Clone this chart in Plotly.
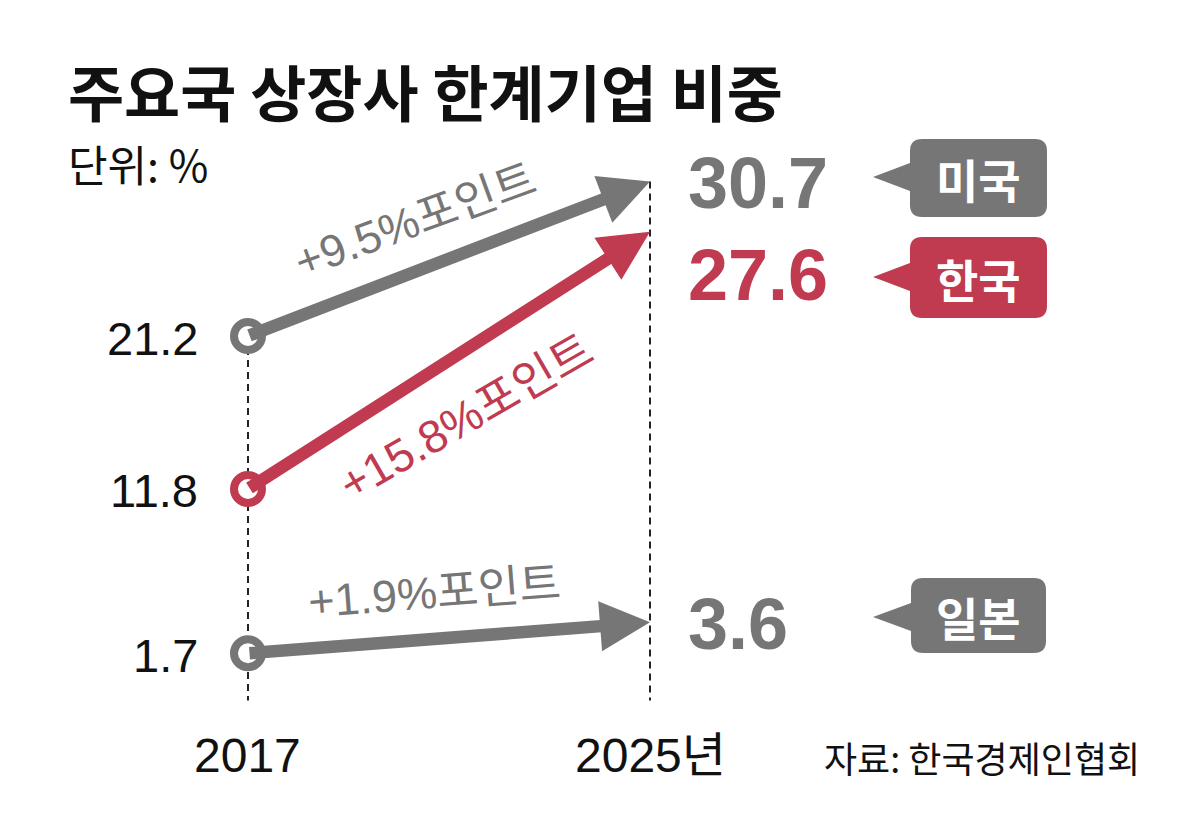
import plotly.graph_objects as go

# ---- data ----
countries = ["미국", "한국", "일본"]
years = [2017, 2025]
year_labels = ["2017", "2025년"]
v2017 = [21.2, 11.8, 1.7]
v2025 = [30.7, 27.6, 3.6]
change_labels = ["+9.5%포인트", "+15.8%포인트", "+1.9%포인트"]
title = "주요국 상장사 한계기업 비중"
unit = "단위: %"
source = "자료: 한국경제인협회"

GRAY = "#767676"
RED = "#c03a50"
colors = [GRAY, RED, GRAY]

W, H = 1200, 825
KFONT = "Noto Sans CJK KR"
NFONT = "Liberation Sans, Arial, Noto Sans CJK KR"
NARROW = "Liberation Sans Narrow, Arial Narrow, Liberation Sans, Noto Sans CJK KR"

def pxx(x):
    return x / W

def pxy(y):
    return 1 - y / H

fig = go.Figure()

# dashed guide lines
base = -1.2
fig.add_trace(go.Scatter(x=[years[0], years[0]], y=[max(v2017), base], mode="lines",
                         line=dict(color="#222", width=2, dash="7px,5px"), hoverinfo="skip"))
fig.add_trace(go.Scatter(x=[years[1], years[1]], y=[max(v2025), base], mode="lines",
                         line=dict(color="#222", width=2, dash="7px,5px"), hoverinfo="skip"))

annotations = []
# arrows
for i in range(3):
    annotations.append(dict(x=years[1], y=v2025[i], ax=years[0], ay=v2017[i],
                            xref="x", yref="y", axref="x", ayref="y", text="",
                            showarrow=True, arrowhead=2, arrowsize=0.8, arrowwidth=12.5,
                            arrowcolor=colors[i], standoff=0))

# start circles
for i in range(3):
    fig.add_trace(go.Scatter(x=[years[0]], y=[v2017[i]], mode="markers",
                             marker=dict(size=28, color="white", line=dict(color=colors[i], width=8)),
                             hoverinfo="skip"))

# start value labels
for i in range(3):
    annotations.append(dict(x=years[0], y=v2017[i], xref="x", yref="y", text=f"{v2017[i]}",
                            showarrow=False, xanchor="right", xshift=-48, yshift=-2,
                            font=dict(family=NFONT, size=47, color="#111")))

# end value labels
end_shift = [0, -41, 0]
for i in range(3):
    annotations.append(dict(x=years[1], y=v2025[i], xref="x", yref="y", text=f"<b>{v2025[i]}</b>",
                            showarrow=False, xanchor="left", xshift=36, yshift=end_shift[i] - 2,
                            font=dict(family=NFONT, size=72, color=colors[i])))

# change labels (rotated)
chg_pos = [(415, 221, -20), (466, 417, -30), (434, 592, -4.4)]
chg_size = [45, 46, 45]
for i in range(3):
    cx, cy, ang = chg_pos[i]
    annotations.append(dict(x=pxx(cx), y=pxy(cy), xref="paper", yref="paper", text=change_labels[i],
                            showarrow=False, textangle=ang, xanchor="center", yanchor="middle",
                            font=dict(family=NFONT, size=chg_size[i], color=colors[i])))

# callout boxes
shapes = []
boxes = [(910, 1047, 139, 217, 177), (910, 1047, 237, 318, 277), (911, 1046, 578, 653, 617)]
r = 12
for i, (x0, x1, y0, y1, ty) in enumerate(boxes):
    tipx = 873
    b1, b2 = ty - 14, ty + 14
    pts = [("M", [(x0 + r, y0)]), ("L", [(x1 - r, y0)]), ("Q", [(x1, y0), (x1, y0 + r)]),
           ("L", [(x1, y1 - r)]), ("Q", [(x1, y1), (x1 - r, y1)]), ("L", [(x0 + r, y1)]),
           ("Q", [(x0, y1), (x0, y1 - r)]), ("L", [(x0, b2)]), ("L", [(tipx, ty)]),
           ("L", [(x0, b1)]), ("L", [(x0, y0 + r)]), ("Q", [(x0, y0), (x0 + r, y0)])]
    path = ""
    for cmd, ps in pts:
        path += cmd + " ".join(f"{pxx(a):.5f},{pxy(b):.5f}" for a, b in ps) + " "
    path += "Z"
    shapes.append(dict(type="path", xref="paper", yref="paper", path=path,
                       fillcolor=colors[i], line=dict(width=0), layer="below"))
    annotations.append(dict(x=pxx((x0 + x1) / 2), y=pxy((y0 + y1) / 2), xref="paper", yref="paper",
                            text=f"<b>{countries[i]}</b>", showarrow=False,
                            xanchor="center", yanchor="middle",
                            font=dict(family=KFONT, size=46, color="white")))

# title, unit, source
annotations.append(dict(x=pxx(66), y=pxy(90), xref="paper", yref="paper", text=f"<b>{title}</b>",
                        showarrow=False, xanchor="left", yanchor="middle",
                        font=dict(family=KFONT, size=61, color="#111")))
annotations.append(dict(x=pxx(66), y=pxy(163), xref="paper", yref="paper", text=unit,
                        showarrow=False, xanchor="left", yanchor="middle",
                        font=dict(family=KFONT, size=43, color="#111")))
annotations.append(dict(x=pxx(822), y=pxy(757), xref="paper", yref="paper", text=source,
                        showarrow=False, xanchor="left", yanchor="middle",
                        font=dict(family=KFONT, size=36, color="#111")))
# year labels
for i in range(2):
    annotations.append(dict(x=years[i], y=pxy(755), xref="x", yref="paper", text=year_labels[i],
                            showarrow=False, xanchor="center", yanchor="middle",
                            font=dict(family=NARROW, size=48, color="#111")))

fig.update_layout(
    width=W, height=H, margin=dict(l=0, r=0, t=0, b=0),
    paper_bgcolor="white", plot_bgcolor="white", showlegend=False,
    xaxis=dict(range=[2012.065, 2035.945], visible=False, fixedrange=True),
    yaxis=dict(range=[-8.853, 41.85], visible=False, fixedrange=True),
    annotations=annotations, shapes=shapes,
)

fig.write_html("out.html")
